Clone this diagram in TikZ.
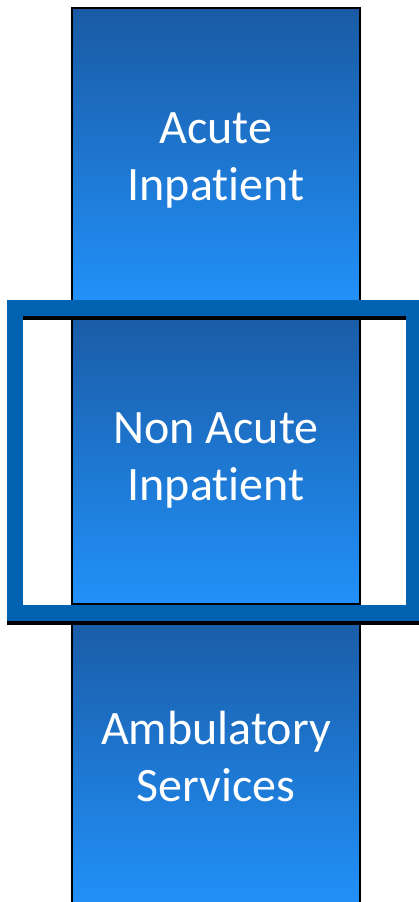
\documentclass[tikz,border=0pt]{standalone}
\usepackage{fontspec}
\setmainfont{Carlito}[Ligatures=NoCommon]
\definecolor{segtop}{RGB}{26,90,164}
\definecolor{segbottom}{RGB}{33,145,249}
\definecolor{frameblue}{RGB}{0,98,176}
% two-line label, lowered by #1 while keeping its box size
\newcommand{\seglabel}[3]{\raisebox{#1}[\height][\depth]{\begin{tabular}{@{}c@{}}#2\\#3\end{tabular}}}
\begin{document}
\begin{tikzpicture}[x=1pt,y=-1pt,
  segbox/.style={draw=black, line width=1.6pt, top color=segtop, bottom color=segbottom,
    minimum width=288pt, minimum height=296pt, inner sep=0pt,
    text=white, font=\fontsize{48}{57}\selectfont},
  focusframe/.style={draw=frameblue, line width=16pt, minimum width=399pt,
    minimum height=305pt, inner sep=0pt},
  focusshadow/.style={focusframe, draw=black}]
  \useasboundingbox (0,0) rectangle (418,902);
  % stacked service columns
  \node[segbox] (acute)    at (216,156) {\seglabel{-5pt}{Acute}{Inpatient}};
  \node[segbox] (nonacute) at (216,456) {\seglabel{-5pt}{Non Acute}{Inpatient}};
  \node[segbox] (amb)      at (216,758) {\seglabel{-4pt}{Ambulatory}{Services}};
  % highlight frame around the middle column, with its shadow
  \node[focusshadow] (shadow) at (214.5,464.5) {};
  \node[focusframe] (focus) at (214.5,460.5) {};
\end{tikzpicture}
\end{document}
